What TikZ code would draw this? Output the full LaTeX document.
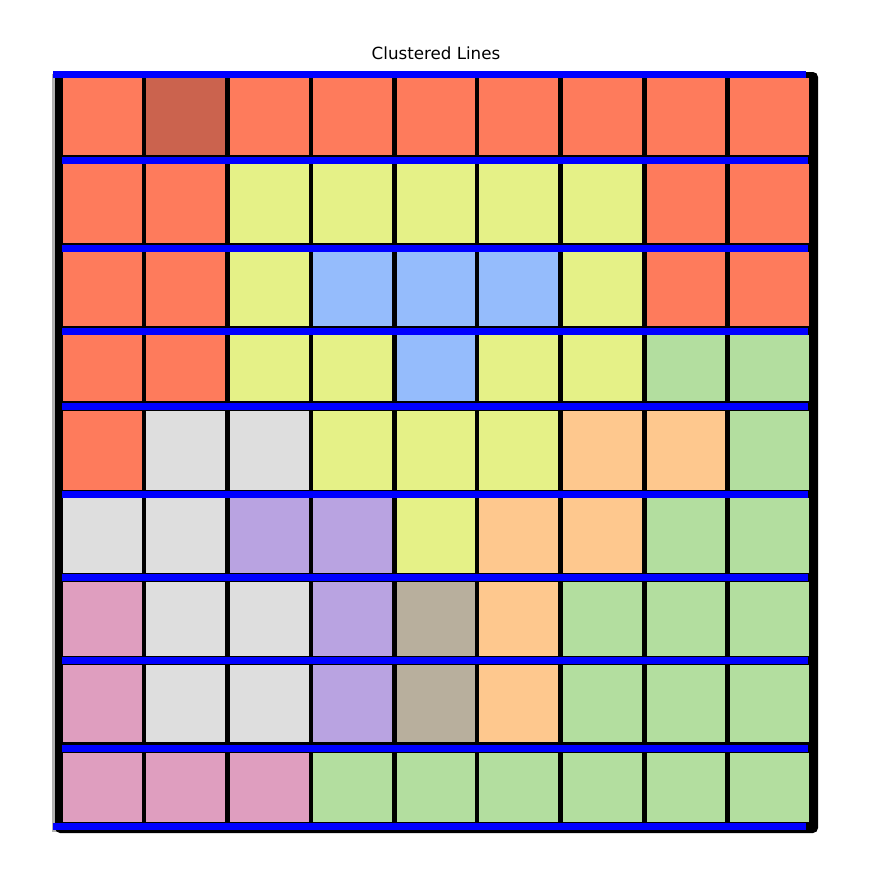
\documentclass[tikz,border=0pt]{standalone}
\usepackage{fontspec}
\setmainfont{DejaVu Sans}
\definecolor{cR}{HTML}{FE7B5C}
\definecolor{cD}{HTML}{CB634E}
\definecolor{cY}{HTML}{E5F187}
\definecolor{cB}{HTML}{95BCFC}
\definecolor{cG}{HTML}{B3DE9F}
\definecolor{cA}{HTML}{DEDEDE}
\definecolor{cP}{HTML}{B9A3E1}
\definecolor{cO}{HTML}{FEC88E}
\definecolor{cK}{HTML}{DF9EBF}
\definecolor{cT}{HTML}{B8AF9D}
\definecolor{lineblue}{HTML}{0000FF}
\tikzset{hline/.style={draw=lineblue, line width=7pt}}
\begin{document}
\begin{tikzpicture}[x=1pt,y=-1pt]
\useasboundingbox (0,0) rectangle (884,879);
\node[font=\fontsize{16.7}{20}\selectfont] (title) at (436,53) {Clustered Lines};
\fill[gray!60] (52,74) rectangle (56,832);
\fill[black, rounded corners=5pt] (55,72) rectangle (818,833);
\def\xl{{63,146,230,313,397,479,563,647,730}}
\def\xr{{142,225,309,392,475,558,642,725,809}}
\def\yt{{78,164,252,335,411,498,582,665,753}}
\def\yb{{155,243,326,401,490,573,656,742,822}}
\foreach \r/\cols in {
  0/{cR,cD,cR,cR,cR,cR,cR,cR,cR},
  1/{cR,cR,cY,cY,cY,cY,cY,cR,cR},
  2/{cR,cR,cY,cB,cB,cB,cY,cR,cR},
  3/{cR,cR,cY,cY,cB,cY,cY,cG,cG},
  4/{cR,cA,cA,cY,cY,cY,cO,cO,cG},
  5/{cA,cA,cP,cP,cY,cO,cO,cG,cG},
  6/{cK,cA,cA,cP,cT,cO,cG,cG,cG},
  7/{cK,cA,cA,cP,cT,cO,cG,cG,cG},
  8/{cK,cK,cK,cG,cG,cG,cG,cG,cG}} {
  \foreach \c [count=\i from 0] in \cols {
    \pgfmathsetmacro\xa{\xl[\i]}
    \pgfmathsetmacro\xb{\xr[\i]}
    \pgfmathsetmacro\ya{\yt[\r]}
    \pgfmathsetmacro\yc{\yb[\r]}
    \fill[\c] (\xa,\ya) rectangle (\xb,\yc);
  }
}
\coordinate (t0) at (53,74);  \coordinate (t1) at (806,74);
\coordinate (b0) at (53,826); \coordinate (b1) at (806,826);
\draw[hline] (t0) -- (t1);
\draw[hline] (b0) -- (b1);
\foreach \y in {160,248,331,406,494,577,660,748} {
  \coordinate (l\y a) at (62,\y);
  \coordinate (l\y b) at (808,\y);
  \draw[hline] (l\y a) -- (l\y b);
}
\end{tikzpicture}
\end{document}
